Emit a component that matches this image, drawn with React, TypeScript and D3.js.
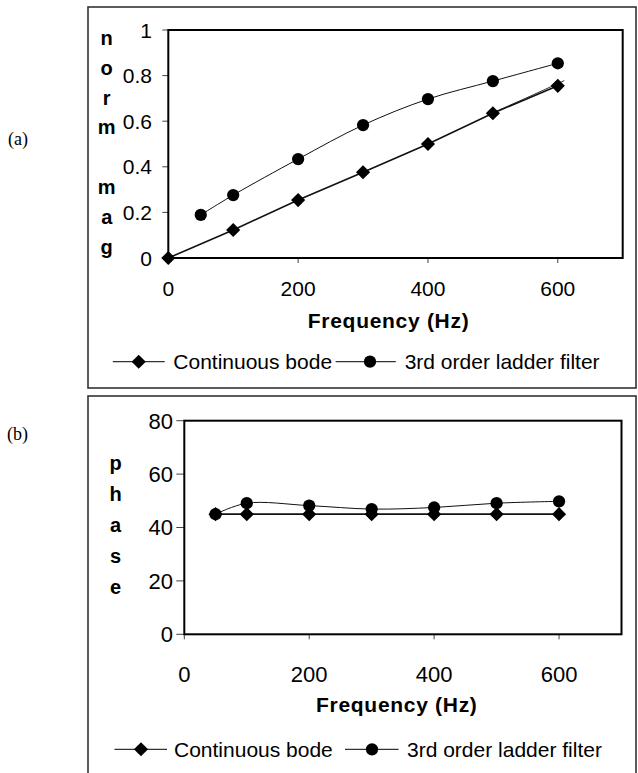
import React from "react";
import * as d3 from "d3";

// ---------- data ----------
const magFreqBode = [0, 100, 200, 300, 400, 500, 600];
const magBode = [0, 0.123, 0.254, 0.376, 0.5, 0.635, 0.755];
const magBodeCurveFreq = [500, 550, 610];
const magBodeCurve = [0.637, 0.7, 0.778];
const magFreqLadder = [50, 100, 200, 300, 400, 500, 600];
const magLadder = [0.189, 0.276, 0.434, 0.583, 0.697, 0.776, 0.854];

const phaseFreq = [50, 100, 200, 300, 400, 500, 600];
const phaseBode = [45, 45, 45, 45, 45, 45, 45];
const phaseLadder = [45, 49.1, 48.2, 46.9, 47.5, 49.1, 49.8];

const xTicks = [0, 200, 400, 600];
const magTicks = [0, 0.2, 0.4, 0.6, 0.8, 1];
const magTickLabels = ["0", "0.2", "0.4", "0.6", "0.8", "1"];
const phaseTicks = [0, 20, 40, 60, 80];
const phaseTickLabels = ["0", "20", "40", "60", "80"];
const magTitleLetters = ["n", "o", "r", "m", "", "m", "a", "g"];
const phaseTitleLetters = ["p", "h", "a", "s", "e"];
const seriesNames = ["Continuous bode", "3rd order ladder filter"];
const xTitle = "Frequency (Hz)";

const SANS = "'Liberation Sans', Arial, Helvetica, sans-serif";
const SERIF = "'Liberation Serif', 'Times New Roman', serif";

const diamondPath = d3.symbol(d3.symbolSquare, 100)() as string;
const circlePath = d3.symbol(d3.symbolCircle, 118)() as string;

function Diamond({ x, y }: { x: number; y: number }) {
  return <path d={diamondPath} transform={`translate(${x},${y}) rotate(45)`} fill="#000" />;
}
function Dot({ x, y }: { x: number; y: number }) {
  return <path d={circlePath} transform={`translate(${x},${y})`} fill="#000" />;
}

type Cfg = {
  panelLabel: string;
  panelLabelX: number;
  panelLabelY: number;
  box: { x: number; y: number; w: number; h: number };
  plot: { left: number; right: number; top: number; bottom: number };
  yDomain: [number, number];
  yTicks: number[];
  yTickLabels: string[];
  yLabelRight: number;
  yTickLen: number;
  xLabelBase: number;
  tickFont: number;
  titleX: number;
  titleBase: number;
  legendY: number;
  legend: number[][];
  letters: string[];
  lettersX: number;
  lettersBase: number;
  lettersStep: number;
  bodeX: number[];
  bodeY: number[];
  curveX?: number[];
  curveY?: number[];
  ladderX: number[];
  ladderY: number[];
};

function Panel({ c }: { c: Cfg }) {
  const x = d3.scaleLinear().domain([0, 700]).range([c.plot.left, c.plot.right]);
  const y = d3.scaleLinear().domain(c.yDomain).range([c.plot.bottom, c.plot.top]);
  const bodePts = c.bodeX.map((f, i) => [f, c.bodeY[i]] as [number, number]);
  const ladderPts = c.ladderX.map((f, i) => [f, c.ladderY[i]] as [number, number]);
  const lineLin = d3.line<[number, number]>().x((d) => x(d[0])).y((d) => y(d[1]));
  const lineSmooth = d3
    .line<[number, number]>()
    .x((d) => x(d[0]))
    .y((d) => y(d[1]))
    .curve(d3.curveCatmullRom.alpha(0.5));
  const curvePts = c.curveX ? c.curveX.map((f, i) => [f, c.curveY![i]] as [number, number]) : null;
  return (
    <g>
      <rect x={c.box.x} y={c.box.y} width={c.box.w} height={c.box.h} fill="none" stroke="#333" strokeWidth={1.6} />
      <text x={c.panelLabelX} y={c.panelLabelY} fontFamily={SERIF} fontSize={18} fill="#000">
        {c.panelLabel}
      </text>
      {c.letters.map((l, i) => (
        <text
          key={i}
          x={c.lettersX}
          y={c.lettersBase + i * c.lettersStep}
          fontFamily={SANS}
          fontWeight="bold"
          fontSize={20}
          textAnchor="middle"
          fill="#000"
        >
          {l}
        </text>
      ))}
      {c.yTicks.map((t, i) => (
        <g key={"y" + i}>
          <line x1={c.plot.left - c.yTickLen} x2={c.plot.left} y1={y(t)} y2={y(t)} stroke="#444" strokeWidth={1} />
          <text
            x={c.yLabelRight}
            y={y(t)}
            dy="0.36em"
            textAnchor="end"
            fontFamily={SANS}
            fontSize={c.tickFont}
            fill="#000"
          >
            {c.yTickLabels[i]}
          </text>
        </g>
      ))}
      {xTicks.map((t) => (
        <g key={"x" + t}>
          <line x1={x(t)} x2={x(t)} y1={c.plot.bottom} y2={c.plot.bottom + 5} stroke="#444" strokeWidth={1} />
          <text x={x(t)} y={c.xLabelBase} textAnchor="middle" fontFamily={SANS} fontSize={c.tickFont} fill="#000">
            {t}
          </text>
        </g>
      ))}
      <rect
        x={c.plot.left}
        y={c.plot.top}
        width={c.plot.right - c.plot.left}
        height={c.plot.bottom - c.plot.top}
        fill="none"
        stroke="#000"
        strokeWidth={2}
      />
      {curvePts && <path d={lineLin(curvePts) as string} fill="none" stroke="#333" strokeWidth={1} />}
      <path d={lineLin(bodePts) as string} fill="none" stroke="#111" strokeWidth={1.6} />
      <path d={lineSmooth(ladderPts) as string} fill="none" stroke="#111" strokeWidth={1} />
      {bodePts.map((p, i) => (
        <Diamond key={"d" + i} x={x(p[0])} y={y(p[1])} />
      ))}
      {ladderPts.map((p, i) => (
        <Dot key={"c" + i} x={x(p[0])} y={y(p[1])} />
      ))}
      <text
        x={c.titleX}
        y={c.titleBase}
        textAnchor="middle"
        fontFamily={SANS}
        fontWeight="bold"
        fontSize={21}
        letterSpacing={0.7}
        fill="#000"
      >
        {xTitle}
      </text>
      {c.legend.map((L, i) => (
        <g key={"l" + i}>
          <line x1={L[0]} x2={L[1]} y1={c.legendY} y2={c.legendY} stroke="#333" strokeWidth={1.2} />
          {i === 0 ? <Diamond x={L[2]} y={c.legendY} /> : <Dot x={L[2]} y={c.legendY} />}
          <text x={L[3]} y={c.legendY} dy="0.36em" fontFamily={SANS} fontSize={21} fill="#000">
            {seriesNames[i]}
          </text>
        </g>
      ))}
    </g>
  );
}

const topCfg: Cfg = {
  panelLabel: "(a)",
  panelLabelX: 8,
  panelLabelY: 145,
  box: { x: 88, y: 7, w: 548, h: 381 },
  plot: { left: 168.3, right: 622.7, top: 30, bottom: 258 },
  yDomain: [0, 1],
  yTicks: magTicks,
  yTickLabels: magTickLabels,
  yLabelRight: 152,
  yTickLen: 6,
  xLabelBase: 296,
  tickFont: 21,
  titleX: 388.6,
  titleBase: 328,
  legendY: 361.7,
  legend: [
    [112.8, 164.7, 138.7, 173.3],
    [335.6, 395.8, 370, 404.7],
  ],
  letters: magTitleLetters,
  lettersX: 106.7,
  lettersBase: 45,
  lettersStep: 29.8,
  bodeX: magFreqBode,
  bodeY: magBode,
  curveX: magBodeCurveFreq,
  curveY: magBodeCurve,
  ladderX: magFreqLadder,
  ladderY: magLadder,
};

const botCfg: Cfg = {
  panelLabel: "(b)",
  panelLabelX: 7,
  panelLabelY: 440,
  box: { x: 88, y: 396, w: 548, h: 400 },
  plot: { left: 184.3, right: 621.5, top: 420.7, bottom: 634.3 },
  yDomain: [0, 80],
  yTicks: phaseTicks,
  yTickLabels: phaseTickLabels,
  yLabelRight: 173,
  yTickLen: 8,
  xLabelBase: 681.7,
  tickFont: 22,
  titleX: 396.8,
  titleBase: 711.7,
  legendY: 749.3,
  legend: [
    [114.5, 167, 141, 174],
    [345, 398.6, 372, 407],
  ],
  letters: phaseTitleLetters,
  lettersX: 115.6,
  lettersBase: 470,
  lettersStep: 31,
  bodeX: phaseFreq,
  bodeY: phaseBode,
  ladderX: phaseFreq,
  ladderY: phaseLadder,
};

export default function App() {
  return (
    <svg
      width={638}
      height={773}
      style={{ position: "absolute", left: 0, top: 0, background: "#fff" }}
    >
      <rect x={0} y={0} width={638} height={773} fill="#fff" />
      <Panel c={topCfg} />
      <Panel c={botCfg} />
    </svg>
  );
}
